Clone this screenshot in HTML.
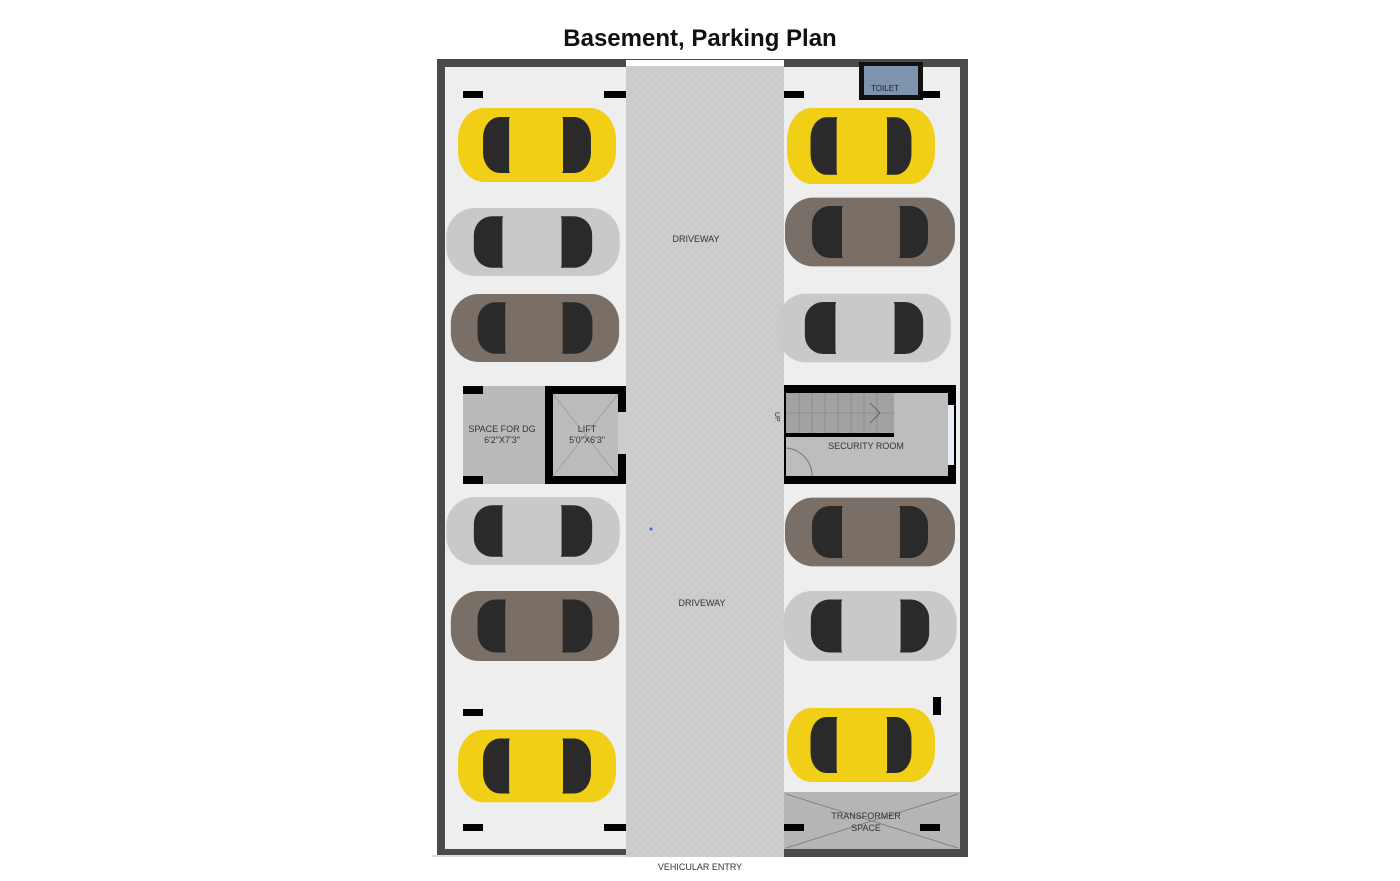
<!DOCTYPE html>
<html><head><meta charset="utf-8"><style>
html,body{margin:0;padding:0;background:#fff;width:1400px;height:881px;overflow:hidden}
svg{display:block}
</style></head><body>
<svg width="1400" height="881" viewBox="0 0 1400 881" xmlns="http://www.w3.org/2000/svg">
<defs>
<pattern id="pv" width="8" height="8" patternUnits="userSpaceOnUse">
<rect width="8" height="8" fill="#cdcdcd"/>
<path d="M0 4 L4 0 M4 8 L8 4" stroke="#c4c4c4" stroke-width="0.8"/>
</pattern>
<g id="car">
<rect x="-85" y="-33" width="170" height="66" rx="28"/>
<rect x="-58" y="-25" width="116" height="50" rx="18" fill="#2a2a2a"/>
<rect x="-30" y="-28" width="58" height="56" rx="6" class="roof"/>
</g>
</defs>
<text x="700" y="46" text-anchor="middle" font-family="Liberation Sans, sans-serif" font-weight="bold" font-size="24" fill="#111">Basement, Parking Plan</text>
<rect x="437" y="59" width="531" height="798" fill="#4a4a4a"/>
<rect x="445" y="67" width="515" height="782" fill="#eeeeee"/>
<rect x="432" y="855" width="200" height="2" fill="#ddd"/>
<rect x="626" y="60" width="158" height="797" fill="url(#pv)"/>
<rect x="626" y="60" width="158" height="6" fill="#fff"/>
<text x="696" y="242" text-anchor="middle" font-family="Liberation Sans, sans-serif" font-size="9" fill="#333">DRIVEWAY</text>
<text x="702" y="606" text-anchor="middle" font-family="Liberation Sans, sans-serif" font-size="9" fill="#333">DRIVEWAY</text>
<circle cx="651" cy="529" r="1.5" fill="#36f"/>
<rect x="859" y="62" width="64" height="38" fill="#111"/>
<rect x="864" y="66" width="54" height="29" fill="#7e93ad"/>
<text x="885" y="91" text-anchor="middle" font-family="Liberation Sans, sans-serif" font-size="8" fill="#222">TOILET</text>
<g fill="#000">
<rect x="463" y="91" width="20" height="7"/><rect x="604" y="91" width="22" height="7"/>
<rect x="784" y="91" width="20" height="7"/><rect x="920" y="91" width="20" height="7"/>
<rect x="463" y="709" width="20" height="7"/>
<rect x="463" y="824" width="20" height="7"/><rect x="604" y="824" width="22" height="7"/>
<rect x="784" y="824" width="20" height="7"/><rect x="920" y="824" width="20" height="7"/>
<rect x="933" y="697" width="8" height="18"/>
</g>
<rect x="463" y="386" width="82" height="98" fill="#b9b9b9"/>
<rect x="463" y="386" width="20" height="8" fill="#000"/><rect x="463" y="476" width="20" height="8" fill="#000"/>
<rect x="545" y="386" width="81" height="98" fill="#000"/>
<rect x="553" y="394" width="65" height="82" fill="#bcbcbc"/>
<rect x="618" y="412" width="8" height="42" fill="#ccc"/>
<path d="M553 394 L618 476 M618 394 L553 476" stroke="#999" stroke-width="0.8"/>
<text x="502" y="432" text-anchor="middle" font-family="Liberation Sans, sans-serif" font-size="9" fill="#333">SPACE FOR DG</text>
<text x="502" y="443" text-anchor="middle" font-family="Liberation Sans, sans-serif" font-size="9" fill="#333">6'2"X7'3"</text>
<text x="587" y="432" text-anchor="middle" font-family="Liberation Sans, sans-serif" font-size="9" fill="#333">LIFT</text>
<text x="587" y="443" text-anchor="middle" font-family="Liberation Sans, sans-serif" font-size="9" fill="#333">5'0"X6'3"</text>
<rect x="784" y="385" width="172" height="99" fill="#000"/>
<rect x="786" y="393" width="162" height="83" fill="#bdbdbd"/>
<rect x="786" y="393" width="108" height="40" fill="#a2a2a2"/>
<g stroke="#888" stroke-width="0.8"><path d="M799 393v40M812 393v40M825 393v40M838 393v40M851 393v40M864 393v40M877 393v40M786 413h108"/></g>
<path d="M870 403 L880 413 L870 423" stroke="#666" fill="none"/>
<rect x="786" y="433" width="108" height="4" fill="#000"/>
<rect x="948" y="405" width="6" height="60" fill="#e8ecf5"/>
<path d="M786 448 A28 28 0 0 1 812 476" stroke="#777" fill="none"/>
<text x="778" y="415" font-family="Liberation Sans, sans-serif" font-size="7" fill="#333" transform="rotate(90 778 412)">UP</text>
<text x="866" y="449" text-anchor="middle" font-family="Liberation Sans, sans-serif" font-size="9" fill="#333">SECURITY ROOM</text>
<rect x="784" y="792" width="176" height="58" fill="#b5b5b5"/>
<path d="M786 794 L958 848 M958 794 L786 848" stroke="#777" stroke-width="0.8"/>
<rect x="784" y="824" width="20" height="7" fill="#000"/><rect x="920" y="824" width="20" height="7" fill="#000"/>
<text x="866" y="819" text-anchor="middle" font-family="Liberation Sans, sans-serif" font-size="9" fill="#333">TRANSFORMER</text>
<text x="866" y="831" text-anchor="middle" font-family="Liberation Sans, sans-serif" font-size="9" fill="#333">SPACE</text>
<rect x="784" y="849" width="176" height="8" fill="#4a4a4a"/>
<text x="700" y="870" text-anchor="middle" font-family="Liberation Sans, sans-serif" font-size="9" fill="#333">VEHICULAR ENTRY</text>
<style>
.y{fill:#f0cf16}.y .roof{fill:#e6c31a}
.s{fill:#c9c9c9}.s .roof{fill:#dedede}
.b{fill:#7a6f66}.b .roof{fill:#8a8078}
</style>
<use href="#car" class="y" transform="translate(537,145) scale(0.93,1.12)"/>
<use href="#car" class="s" transform="translate(533,242) scale(1.02,1.03)"/>
<use href="#car" class="b" transform="translate(535,328) scale(0.99,1.03)"/>
<use href="#car" class="s" transform="translate(533,531) scale(1.02,1.03)"/>
<use href="#car" class="b" transform="translate(535,626) scale(0.99,1.06)"/>
<use href="#car" class="y" transform="translate(537,766) scale(0.93,1.1)"/>
<use href="#car" class="y" transform="translate(861,146) scale(-0.87,1.15)"/>
<use href="#car" class="b" transform="translate(870,232) scale(-1,1.04)"/>
<use href="#car" class="s" transform="translate(864,328) scale(-1.02,1.04)"/>
<use href="#car" class="b" transform="translate(870,532) scale(-1,1.04)"/>
<use href="#car" class="s" transform="translate(870,626) scale(-1.02,1.06)"/>
<use href="#car" class="y" transform="translate(861,745) scale(-0.87,1.12)"/>
</svg>
</body></html>
